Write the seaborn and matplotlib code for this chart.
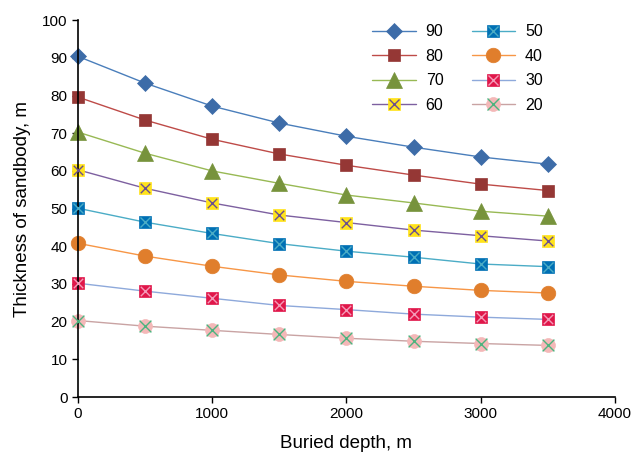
import matplotlib
matplotlib.use("Agg")
import matplotlib.pyplot as plt
import seaborn as sns
import pandas as pd
import numpy as np

depth = [0, 500, 1000, 1500, 2000, 2500, 3000, 3500]
labels = ["90", "80", "70", "60", "50", "40", "30", "20"]
s90 = [90.4, 83.3, 77.2, 72.7, 69.2, 66.3, 63.7, 61.8]
s80 = [79.6, 73.5, 68.4, 64.5, 61.5, 58.9, 56.5, 54.8]
s70 = [70.3, 64.7, 60.0, 56.7, 53.6, 51.5, 49.3, 48.0]
s60 = [60.3, 55.4, 51.5, 48.3, 46.3, 44.3, 42.8, 41.4]
s50 = [50.1, 46.4, 43.4, 40.7, 38.7, 37.1, 35.3, 34.6]
s40 = [40.8, 37.4, 34.7, 32.4, 30.7, 29.4, 28.3, 27.6]
s30 = [30.2, 28.1, 26.2, 24.3, 23.2, 22.0, 21.2, 20.6]
s20 = [20.3, 18.8, 17.7, 16.6, 15.6, 14.8, 14.2, 13.7]
series = [s90, s80, s70, s60, s50, s40, s30, s20]

rows = []
for lab, vals in zip(labels, series):
    for d, v in zip(depth, vals):
        rows.append({"depth": d, "thick": v, "series": lab})
df = pd.DataFrame(rows)

sns.set_theme(style="white")
plt.rcParams['font.family'] = ['Liberation Sans', 'DejaVu Sans']
plt.rcParams['text.color'] = 'black'
plt.rcParams['axes.labelcolor'] = 'black'

# style: line color, marker, marker face, marker size, overlay x color
styles = {
    "90": dict(lc="#4A7EBB", m="D", fc="#3D6CA8", ms=8.5, xc=None),
    "80": dict(lc="#BE4B48", m="s", fc="#953735", ms=8.5, xc=None),
    "70": dict(lc="#98B954", m="^", fc="#77933C", ms=11.5, xc=None),
    "60": dict(lc="#7D60A0", m="s", fc="#FFE31A", ms=8, xc="#6B4F8F"),
    "50": dict(lc="#4BACC6", m="s", fc="#0070B4", ms=8.5, xc="#4BACC6"),
    "40": dict(lc="#F79646", m="o", fc="#E07E2C", ms=10.5, xc=None),
    "30": dict(lc="#8EA9DB", m="s", fc="#E0174A", ms=8, xc="#F49AB8"),
    "20": dict(lc="#C9A3A3", m="o", fc="#F4B8B8", ms=10, xc="#4DB37E"),
}

fig = plt.figure(figsize=(6.44, 4.59), dpi=100)
ax = fig.add_axes([0.121, 0.135, 0.834, 0.821])

handles = []
for lab in labels:
    st = styles[lab]
    sub = df[df["series"] == lab]
    sns.lineplot(data=sub, x="depth", y="thick", ax=ax, color=st["lc"], linewidth=1.0,
                 marker=st["m"], markersize=st["ms"], markerfacecolor=st["fc"],
                 markeredgecolor=st["fc"], markeredgewidth=0.5, legend=False,
                 clip_on=False)
    ln = ax.lines[-1]
    h = ln
    if st["xc"] is not None:
        sns.scatterplot(data=sub, x="depth", y="thick", ax=ax, marker="x",
                        color=st["xc"], s=(st["ms"] * 0.85) ** 2, linewidths=1.0,
                        legend=False, zorder=4, clip_on=False)
        xh, = ax.plot([], [], linestyle="none", marker="x", color=st["xc"],
                      markersize=st["ms"] * 0.85, markeredgewidth=1.0)
        h = (ln, xh)
    handles.append(h)

ax.set_xlim(0, 4000)
ax.set_ylim(0, 100)
ax.set_xticks([0, 1000, 2000, 3000, 4000])
ax.set_yticks(range(0, 101, 10))
ax.tick_params(axis="both", direction="out", length=4, width=1, colors="black",
               labelsize=11, left=True, bottom=True)
for sp in ["top", "right"]:
    ax.spines[sp].set_visible(False)
for sp in ["left", "bottom"]:
    ax.spines[sp].set_color("black")
    ax.spines[sp].set_linewidth(1.2)

ax.set_xlabel("Buried depth, m", fontsize=13.5, labelpad=10, color="black")
ax.set_ylabel("Thickness of sandbody, m", fontsize=13.5, labelpad=8, color="black")

leg = ax.legend(handles, labels, ncol=2, frameon=False, loc="upper left",
                bbox_to_anchor=(361 / 644, 1 - 13 / 459), bbox_transform=fig.transFigure,
                fontsize=11.5, handlelength=2.75, columnspacing=1.75, labelspacing=0.6,
                handletextpad=0.6, borderpad=0.2)
for t in leg.get_texts():
    t.set_color("black")

fig.savefig("out.png", dpi=100)
